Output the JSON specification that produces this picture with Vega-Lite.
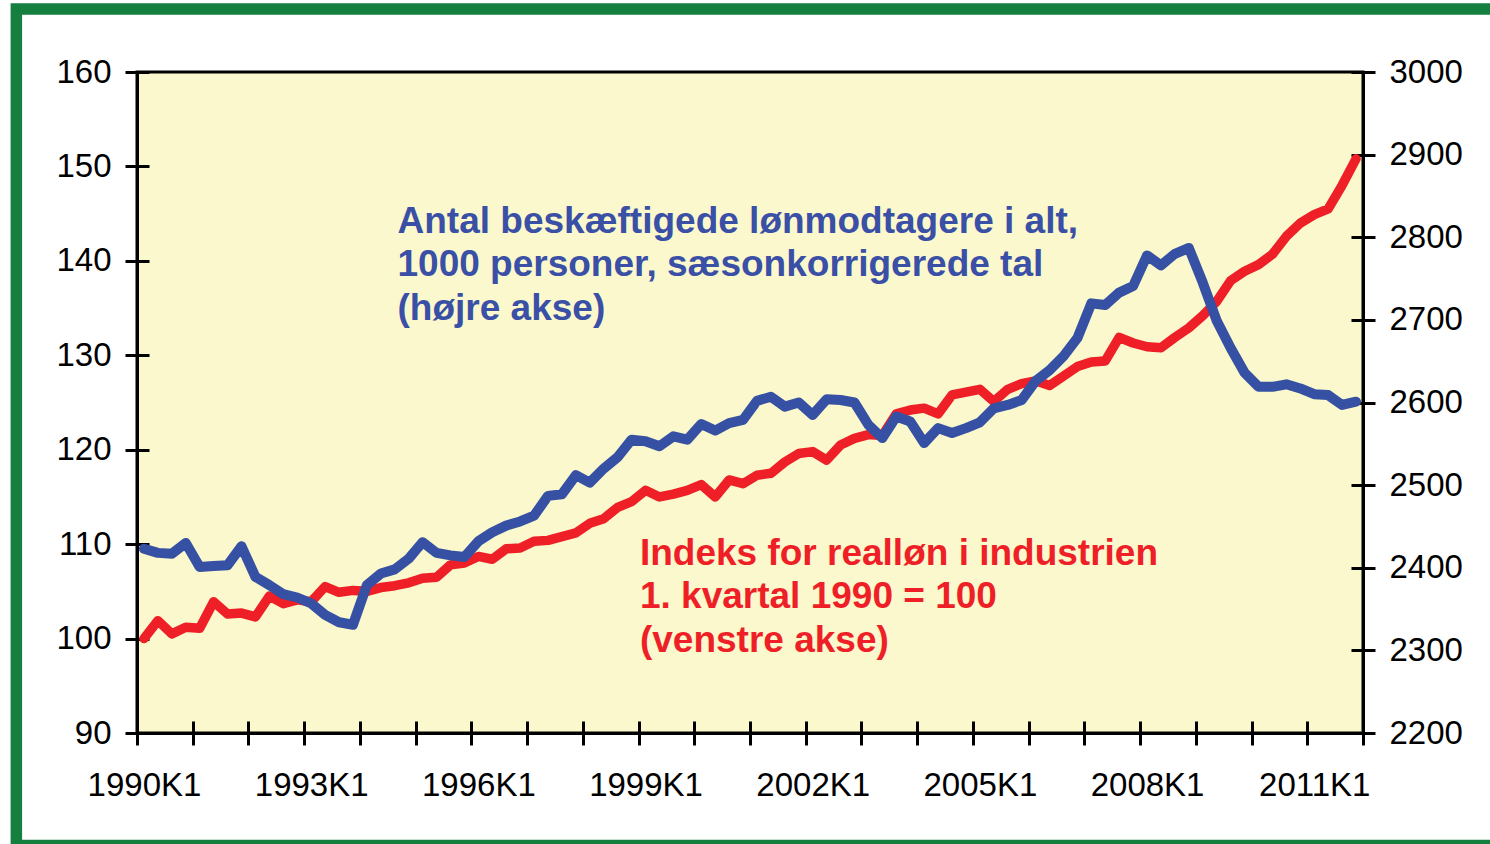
{
  "$schema": "https://vega.github.io/schema/vega-lite/v6.json",
  "width": 1226,
  "height": 661,
  "autosize": {"type": "none"},
  "padding": {"left": 137, "top": 72, "right": 127, "bottom": 111},
  "background": "#FFFFFF",
  "config": {
    "view": {"fill": "#FAF8CC", "stroke": "#000000", "strokeWidth": 3},
    "axis": {"grid": false, "title": null},
    "font": "Liberation Sans"
  },
  "data": {
    "values": [
      {"kvartal": "1990K1", "aar": 1990.0, "realloen": 100.0, "beskaeftigede": 2423},
      {"kvartal": "1990K2", "aar": 1990.25, "realloen": 101.9, "beskaeftigede": 2418},
      {"kvartal": "1990K3", "aar": 1990.5, "realloen": 100.5, "beskaeftigede": 2417},
      {"kvartal": "1990K4", "aar": 1990.75, "realloen": 101.2, "beskaeftigede": 2430},
      {"kvartal": "1991K1", "aar": 1991.0, "realloen": 101.1, "beskaeftigede": 2401},
      {"kvartal": "1991K2", "aar": 1991.25, "realloen": 103.9, "beskaeftigede": 2402},
      {"kvartal": "1991K3", "aar": 1991.5, "realloen": 102.6, "beskaeftigede": 2403},
      {"kvartal": "1991K4", "aar": 1991.75, "realloen": 102.7, "beskaeftigede": 2426},
      {"kvartal": "1992K1", "aar": 1992.0, "realloen": 102.3, "beskaeftigede": 2389},
      {"kvartal": "1992K2", "aar": 1992.25, "realloen": 104.5, "beskaeftigede": 2379},
      {"kvartal": "1992K3", "aar": 1992.5, "realloen": 103.7, "beskaeftigede": 2368},
      {"kvartal": "1992K4", "aar": 1992.75, "realloen": 104.1, "beskaeftigede": 2364},
      {"kvartal": "1993K1", "aar": 1993.0, "realloen": 103.9, "beskaeftigede": 2357},
      {"kvartal": "1993K2", "aar": 1993.25, "realloen": 105.5, "beskaeftigede": 2343},
      {"kvartal": "1993K3", "aar": 1993.5, "realloen": 104.9, "beskaeftigede": 2334},
      {"kvartal": "1993K4", "aar": 1993.75, "realloen": 105.1, "beskaeftigede": 2331},
      {"kvartal": "1994K1", "aar": 1994.0, "realloen": 105.0, "beskaeftigede": 2379},
      {"kvartal": "1994K2", "aar": 1994.25, "realloen": 105.4, "beskaeftigede": 2393},
      {"kvartal": "1994K3", "aar": 1994.5, "realloen": 105.6, "beskaeftigede": 2398},
      {"kvartal": "1994K4", "aar": 1994.75, "realloen": 105.9, "beskaeftigede": 2411},
      {"kvartal": "1995K1", "aar": 1995.0, "realloen": 106.4, "beskaeftigede": 2431},
      {"kvartal": "1995K2", "aar": 1995.25, "realloen": 106.5, "beskaeftigede": 2418},
      {"kvartal": "1995K3", "aar": 1995.5, "realloen": 107.8, "beskaeftigede": 2415},
      {"kvartal": "1995K4", "aar": 1995.75, "realloen": 108.0, "beskaeftigede": 2413},
      {"kvartal": "1996K1", "aar": 1996.0, "realloen": 108.7, "beskaeftigede": 2432},
      {"kvartal": "1996K2", "aar": 1996.25, "realloen": 108.4, "beskaeftigede": 2443},
      {"kvartal": "1996K3", "aar": 1996.5, "realloen": 109.5, "beskaeftigede": 2451},
      {"kvartal": "1996K4", "aar": 1996.75, "realloen": 109.6, "beskaeftigede": 2456},
      {"kvartal": "1997K1", "aar": 1997.0, "realloen": 110.3, "beskaeftigede": 2463},
      {"kvartal": "1997K2", "aar": 1997.25, "realloen": 110.4, "beskaeftigede": 2487},
      {"kvartal": "1997K3", "aar": 1997.5, "realloen": 110.8, "beskaeftigede": 2489},
      {"kvartal": "1997K4", "aar": 1997.75, "realloen": 111.2, "beskaeftigede": 2512},
      {"kvartal": "1998K1", "aar": 1998.0, "realloen": 112.2, "beskaeftigede": 2503},
      {"kvartal": "1998K2", "aar": 1998.25, "realloen": 112.7, "beskaeftigede": 2520},
      {"kvartal": "1998K3", "aar": 1998.5, "realloen": 113.9, "beskaeftigede": 2534},
      {"kvartal": "1998K4", "aar": 1998.75, "realloen": 114.5, "beskaeftigede": 2555},
      {"kvartal": "1999K1", "aar": 1999.0, "realloen": 115.7, "beskaeftigede": 2553},
      {"kvartal": "1999K2", "aar": 1999.25, "realloen": 115.0, "beskaeftigede": 2547},
      {"kvartal": "1999K3", "aar": 1999.5, "realloen": 115.3, "beskaeftigede": 2559},
      {"kvartal": "1999K4", "aar": 1999.75, "realloen": 115.7, "beskaeftigede": 2555},
      {"kvartal": "2000K1", "aar": 2000.0, "realloen": 116.3, "beskaeftigede": 2574},
      {"kvartal": "2000K2", "aar": 2000.25, "realloen": 115.0, "beskaeftigede": 2566},
      {"kvartal": "2000K3", "aar": 2000.5, "realloen": 116.8, "beskaeftigede": 2575},
      {"kvartal": "2000K4", "aar": 2000.75, "realloen": 116.4, "beskaeftigede": 2579},
      {"kvartal": "2001K1", "aar": 2001.0, "realloen": 117.3, "beskaeftigede": 2602},
      {"kvartal": "2001K2", "aar": 2001.25, "realloen": 117.5, "beskaeftigede": 2607},
      {"kvartal": "2001K3", "aar": 2001.5, "realloen": 118.7, "beskaeftigede": 2595},
      {"kvartal": "2001K4", "aar": 2001.75, "realloen": 119.6, "beskaeftigede": 2600},
      {"kvartal": "2002K1", "aar": 2002.0, "realloen": 119.8, "beskaeftigede": 2585},
      {"kvartal": "2002K2", "aar": 2002.25, "realloen": 118.9, "beskaeftigede": 2604},
      {"kvartal": "2002K3", "aar": 2002.5, "realloen": 120.5, "beskaeftigede": 2603},
      {"kvartal": "2002K4", "aar": 2002.75, "realloen": 121.2, "beskaeftigede": 2600},
      {"kvartal": "2003K1", "aar": 2003.0, "realloen": 121.6, "beskaeftigede": 2573},
      {"kvartal": "2003K2", "aar": 2003.25, "realloen": 121.5, "beskaeftigede": 2557},
      {"kvartal": "2003K3", "aar": 2003.5, "realloen": 123.8, "beskaeftigede": 2583},
      {"kvartal": "2003K4", "aar": 2003.75, "realloen": 124.2, "beskaeftigede": 2577},
      {"kvartal": "2004K1", "aar": 2004.0, "realloen": 124.4, "beskaeftigede": 2551},
      {"kvartal": "2004K2", "aar": 2004.25, "realloen": 123.8, "beskaeftigede": 2569},
      {"kvartal": "2004K3", "aar": 2004.5, "realloen": 125.8, "beskaeftigede": 2563},
      {"kvartal": "2004K4", "aar": 2004.75, "realloen": 126.1, "beskaeftigede": 2569},
      {"kvartal": "2005K1", "aar": 2005.0, "realloen": 126.4, "beskaeftigede": 2576},
      {"kvartal": "2005K2", "aar": 2005.25, "realloen": 125.1, "beskaeftigede": 2593},
      {"kvartal": "2005K3", "aar": 2005.5, "realloen": 126.4, "beskaeftigede": 2597},
      {"kvartal": "2005K4", "aar": 2005.75, "realloen": 127.0, "beskaeftigede": 2603},
      {"kvartal": "2006K1", "aar": 2006.0, "realloen": 127.3, "beskaeftigede": 2626},
      {"kvartal": "2006K2", "aar": 2006.25, "realloen": 126.8, "beskaeftigede": 2639},
      {"kvartal": "2006K3", "aar": 2006.5, "realloen": 127.8, "beskaeftigede": 2656},
      {"kvartal": "2006K4", "aar": 2006.75, "realloen": 128.8, "beskaeftigede": 2678},
      {"kvartal": "2007K1", "aar": 2007.0, "realloen": 129.3, "beskaeftigede": 2720},
      {"kvartal": "2007K2", "aar": 2007.25, "realloen": 129.4, "beskaeftigede": 2718},
      {"kvartal": "2007K3", "aar": 2007.5, "realloen": 131.9, "beskaeftigede": 2733},
      {"kvartal": "2007K4", "aar": 2007.75, "realloen": 131.3, "beskaeftigede": 2741},
      {"kvartal": "2008K1", "aar": 2008.0, "realloen": 130.9, "beskaeftigede": 2778},
      {"kvartal": "2008K2", "aar": 2008.25, "realloen": 130.8, "beskaeftigede": 2766},
      {"kvartal": "2008K3", "aar": 2008.5, "realloen": 131.9, "beskaeftigede": 2780},
      {"kvartal": "2008K4", "aar": 2008.75, "realloen": 132.9, "beskaeftigede": 2787},
      {"kvartal": "2009K1", "aar": 2009.0, "realloen": 134.2, "beskaeftigede": 2745},
      {"kvartal": "2009K2", "aar": 2009.25, "realloen": 135.7, "beskaeftigede": 2699},
      {"kvartal": "2009K3", "aar": 2009.5, "realloen": 137.9, "beskaeftigede": 2666},
      {"kvartal": "2009K4", "aar": 2009.75, "realloen": 138.9, "beskaeftigede": 2636},
      {"kvartal": "2010K1", "aar": 2010.0, "realloen": 139.6, "beskaeftigede": 2619},
      {"kvartal": "2010K2", "aar": 2010.25, "realloen": 140.7, "beskaeftigede": 2619},
      {"kvartal": "2010K3", "aar": 2010.5, "realloen": 142.6, "beskaeftigede": 2622},
      {"kvartal": "2010K4", "aar": 2010.75, "realloen": 144.0, "beskaeftigede": 2617},
      {"kvartal": "2011K1", "aar": 2011.0, "realloen": 144.9, "beskaeftigede": 2610},
      {"kvartal": "2011K2", "aar": 2011.25, "realloen": 145.5, "beskaeftigede": 2609},
      {"kvartal": "2011K3", "aar": 2011.5, "realloen": 148.0, "beskaeftigede": 2597},
      {"kvartal": "2011K4", "aar": 2011.75, "realloen": 150.8, "beskaeftigede": 2601}
    ]
  },
  "resolve": {"scale": {"y": "independent"}, "axis": {"x": "independent"}},
  "layer": [
    {
      "data": {"values": [{}]},
      "mark": {"type": "rect", "filled": false, "stroke": "#147F3F", "strokeWidth": 11.5, "clip": false},
      "encoding": {
        "x": {"datum": 1987.71, "type": "quantitative", "scale": {"domain": [1989.875, 2011.875], "nice": false, "zero": false}, "axis": null},
        "x2": {"datum": 2014.33},
        "y": {"datum": 166.67, "type": "quantitative", "scale": {"domain": [90, 160], "nice": false, "zero": false}, "axis": null},
        "y2": {"datum": 78.09}
      }
    },
    {
      "mark": {"type": "line", "strokeOpacity": 0},
      "encoding": {
        "x": {
          "field": "aar", "type": "quantitative",
          "scale": {"domain": [1989.875, 2011.875], "nice": false, "zero": false},
          "axis": {
            "orient": "bottom", "labels": false, "domain": false,
            "values": [1989.875, 1990.875, 1991.875, 1992.875, 1993.875, 1994.875, 1995.875, 1996.875, 1997.875, 1998.875, 1999.875, 2000.875, 2001.875, 2002.875, 2003.875, 2004.875, 2005.875, 2006.875, 2007.875, 2008.875, 2009.875, 2010.875, 2011.875],
            "tickSize": -12, "tickWidth": 3, "tickColor": "#000000"
          }
        },
        "y": {
          "field": "realloen", "type": "quantitative",
          "scale": {"domain": [90, 160], "nice": false, "zero": false},
          "axis": {
            "orient": "left", "labels": false, "domain": false,
            "values": [90, 100, 110, 120, 130, 140, 150, 160],
            "tickSize": -12, "tickWidth": 3, "tickColor": "#000000"
          }
        }
      }
    },
    {
      "mark": {"type": "line", "strokeOpacity": 0},
      "encoding": {
        "x": {"field": "aar", "type": "quantitative", "scale": {"domain": [1989.875, 2011.875], "nice": false, "zero": false}, "axis": null},
        "y": {
          "field": "beskaeftigede", "type": "quantitative",
          "scale": {"domain": [2200, 3000], "nice": false, "zero": false},
          "axis": {
            "orient": "right", "labels": false, "domain": false,
            "values": [2200, 2300, 2400, 2500, 2600, 2700, 2800, 2900, 3000],
            "tickSize": -12, "tickWidth": 3, "tickColor": "#000000"
          }
        }
      }
    },
    {
      "mark": {"type": "line", "color": "#EE1F27", "strokeWidth": 9.5, "strokeJoin": "round", "strokeCap": "round"},
      "encoding": {
        "x": {
          "field": "aar", "type": "quantitative",
          "scale": {"domain": [1989.875, 2011.875], "nice": false, "zero": false},
          "axis": {
            "orient": "bottom",
            "values": [1989.875, 1990.875, 1991.875, 1992.875, 1993.875, 1994.875, 1995.875, 1996.875, 1997.875, 1998.875, 1999.875, 2000.875, 2001.875, 2002.875, 2003.875, 2004.875, 2005.875, 2006.875, 2007.875, 2008.875, 2009.875, 2010.875, 2011.875],
            "labelExpr": "(round(datum.value + 0.125) - 1990) % 3 == 0 ? round(datum.value + 0.125) + 'K1' : ''",
            "labelOffset": 7, "labelFlush": false, "labelOverlap": false,
            "labelFont": "Liberation Sans", "labelFontSize": 33, "labelColor": "#000000", "labelPadding": 24,
            "tickSize": 12, "tickWidth": 3, "tickColor": "#000000",
            "domainColor": "#000000", "domainWidth": 3
          }
        },
        "y": {
          "field": "realloen", "type": "quantitative",
          "scale": {"domain": [90, 160], "nice": false, "zero": false},
          "axis": {
            "orient": "left", "format": "d",
            "values": [90, 100, 110, 120, 130, 140, 150, 160],
            "labelFont": "Liberation Sans", "labelFontSize": 33, "labelColor": "#000000", "labelPadding": 14,
            "tickSize": 12, "tickWidth": 3, "tickColor": "#000000",
            "domainColor": "#000000", "domainWidth": 3
          }
        }
      }
    },
    {
      "mark": {"type": "line", "color": "#3651A4", "strokeWidth": 10, "strokeJoin": "round", "strokeCap": "round"},
      "encoding": {
        "x": {"field": "aar", "type": "quantitative", "scale": {"domain": [1989.875, 2011.875], "nice": false, "zero": false}, "axis": null},
        "y": {
          "field": "beskaeftigede", "type": "quantitative",
          "scale": {"domain": [2200, 3000], "nice": false, "zero": false},
          "axis": {
            "orient": "right", "format": "d",
            "values": [2200, 2300, 2400, 2500, 2600, 2700, 2800, 2900, 3000],
            "labelFont": "Liberation Sans", "labelFontSize": 33, "labelColor": "#000000", "labelPadding": 14,
            "tickSize": 12, "tickWidth": 3, "tickColor": "#000000",
            "domainColor": "#000000", "domainWidth": 3
          }
        }
      }
    },
    {
      "data": {"values": [{"tekst": "Antal beskæftigede lønmodtagere i alt,\n1000 personer, sæsonkorrigerede tal\n(højre akse)"}]},
      "mark": {"type": "text", "align": "left", "baseline": "alphabetic", "font": "Liberation Sans", "fontWeight": "bold", "fontSize": 37, "color": "#3A4FA6", "lineBreak": "\n", "lineHeight": 43.4},
      "encoding": {
        "x": {"datum": 1994.55, "type": "quantitative", "scale": {"domain": [1989.875, 2011.875], "nice": false, "zero": false}, "axis": null},
        "y": {"datum": 142.95, "type": "quantitative", "scale": {"domain": [90, 160], "nice": false, "zero": false}, "axis": null},
        "text": {"field": "tekst", "type": "nominal"}
      }
    },
    {
      "data": {"values": [{"tekst": "Indeks for realløn i industrien\n1. kvartal 1990 = 100\n(venstre akse)"}]},
      "mark": {"type": "text", "align": "left", "baseline": "alphabetic", "font": "Liberation Sans", "fontWeight": "bold", "fontSize": 37, "color": "#EE1F27", "lineBreak": "\n", "lineHeight": 43.4},
      "encoding": {
        "x": {"datum": 1998.9, "type": "quantitative", "scale": {"domain": [1989.875, 2011.875], "nice": false, "zero": false}, "axis": null},
        "y": {"datum": 107.79, "type": "quantitative", "scale": {"domain": [90, 160], "nice": false, "zero": false}, "axis": null},
        "text": {"field": "tekst", "type": "nominal"}
      }
    }
  ]
}
